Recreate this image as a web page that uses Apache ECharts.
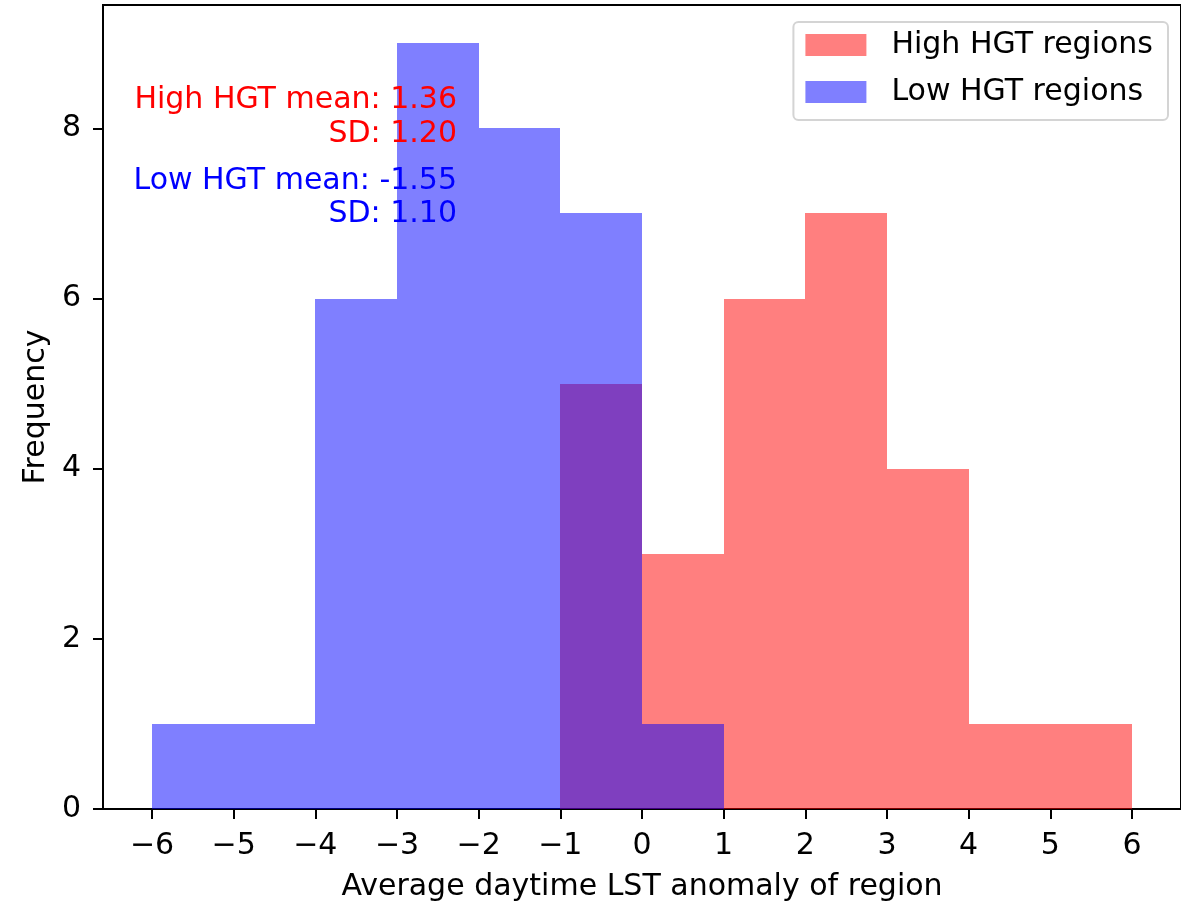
<!DOCTYPE html>
<html>
<head>
<meta charset="utf-8">
<script src="https://cdn.jsdelivr.net/npm/echarts@6/dist/echarts.min.js"></script>
<style>
  html, body { margin: 0; padding: 0; background: #fff; }
  #chart { width: 1181px; height: 902px; }
</style>
</head>
<body>
<div id="chart"></div>
<script>
// Histogram bin edges (width 1, from -6 to 6)
const binEdges = [-6, -5, -4, -3, -2, -1, 0, 1, 2, 3, 4, 5, 6];
// Counts per bin
const highCounts = [0, 0, 0, 0, 0, 5, 3, 6, 7, 4, 1, 1];
const lowCounts  = [1, 1, 6, 9, 8, 7, 1, 0, 0, 0, 0, 0];
// Axis ticks
const xTicks = [-6, -5, -4, -3, -2, -1, 0, 1, 2, 3, 4, 5, 6];
const yTicks = [0, 2, 4, 6, 8];
// Summary statistics
const highStats = { mean: '1.36', sd: '1.20' };
const lowStats  = { mean: '-1.55', sd: '1.10' };

const FONT = 'DejaVu Sans';
const FS = 30;

function toBins(counts) {
  return counts.map((c, i) => [binEdges[i], binEdges[i + 1], c]);
}

function renderBin(params, api) {
  const p0 = api.coord([api.value(0), api.value(2)]);
  const p1 = api.coord([api.value(1), 0]);
  const x0 = Math.round(p0[0]), x1 = Math.round(p1[0]);
  const y0 = Math.round(p0[1]), y1 = Math.round(p1[1]);
  return {
    type: 'rect',
    shape: { x: x0, y: y0, width: x1 - x0, height: y1 - y0 },
    style: { fill: api.visual('color') }
  };
}

const redFill = 'rgba(255,0,0,0.5)';
const blueFill = 'rgba(0,0,255,0.5)';

function statText(y, text, color) {
  return {
    type: 'text', x: 457, y: y, z: 100,
    style: {
      text: text, fill: color, font: FS + 'px "' + FONT + '"',
      textAlign: 'right', textVerticalAlign: 'middle', align: 'right', verticalAlign: 'middle'
    }
  };
}

const chart = echarts.init(document.getElementById('chart'), null, { renderer: 'canvas' });

const option = {
  animation: false,
  backgroundColor: '#fff',
  textStyle: { fontFamily: FONT },
  grid: {
    left: 103, right: 0, top: 5, bottom: 93,
    outerBoundsMode: 'none',
    containLabel: false,
    show: true, borderColor: '#000', borderWidth: 2, backgroundColor: 'transparent'
  },
  xAxis: {
    type: 'value',
    min: -6.6, max: 6.6,
    name: 'Average daytime LST anomaly of region',
    nameLocation: 'middle',
    nameGap: 63,
    nameTextStyle: { fontFamily: FONT, fontSize: FS, color: '#000' },
    axisLine: { show: true, onZero: false, lineStyle: { color: '#000', width: 2 } },
    axisTick: { show: true, length: 10, inside: false, lineStyle: { color: '#000', width: 2 }, customValues: xTicks },
    axisLabel: {
      show: true, margin: 22, fontFamily: FONT, fontSize: FS, color: '#000',
      customValues: xTicks,
      formatter: v => (v < 0 ? '\u2212' + Math.abs(v) : String(v))
    },
    splitLine: { show: false }
  },
  yAxis: {
    type: 'value',
    min: 0, max: 9.45,
    name: 'Frequency',
    nameLocation: 'middle',
    nameGap: 52,
    nameRotate: 90,
    nameTextStyle: { fontFamily: FONT, fontSize: FS, color: '#000' },
    axisLine: { show: true, onZero: false, lineStyle: { color: '#000', width: 2 } },
    axisTick: { show: true, length: 10, inside: false, lineStyle: { color: '#000', width: 2 }, customValues: yTicks },
    axisLabel: {
      show: true, margin: 22, fontFamily: FONT, fontSize: FS, color: '#000',
      customValues: yTicks
    },
    splitLine: { show: false }
  },
  legend: {
    orient: 'vertical',
    right: 13, top: 22,
    padding: [8, 15, 13, 12],
    itemWidth: 61, itemHeight: 22, itemGap: 17,
    icon: 'rect',
    backgroundColor: 'rgba(255,255,255,0.8)',
    borderColor: '#d4d4d4', borderWidth: 2, borderRadius: 5,
    textStyle: { fontFamily: FONT, fontSize: FS, color: '#000', lineHeight: 30, padding: [0, 0, 0, 20] },
    data: [
      { name: 'High HGT regions', itemStyle: { color: redFill } },
      { name: 'Low HGT regions', itemStyle: { color: blueFill } }
    ]
  },
  series: [
    {
      name: 'High HGT regions', type: 'custom',
      itemStyle: { color: redFill },
      encode: { x: [0, 1], y: 2 },
      data: toBins(highCounts),
      renderItem: renderBin
    },
    {
      name: 'Low HGT regions', type: 'custom',
      itemStyle: { color: blueFill },
      encode: { x: [0, 1], y: 2 },
      data: toBins(lowCounts),
      renderItem: renderBin
    }
  ],
  graphic: [
    statText(100, 'High HGT mean: ' + highStats.mean, '#ff0000'),
    statText(134, 'SD: ' + highStats.sd, '#ff0000'),
    statText(181, 'Low HGT mean: ' + lowStats.mean, '#0000ff'),
    statText(214, 'SD: ' + lowStats.sd, '#0000ff')
  ]
};

chart.setOption(option);
</script>
</body>
</html>
